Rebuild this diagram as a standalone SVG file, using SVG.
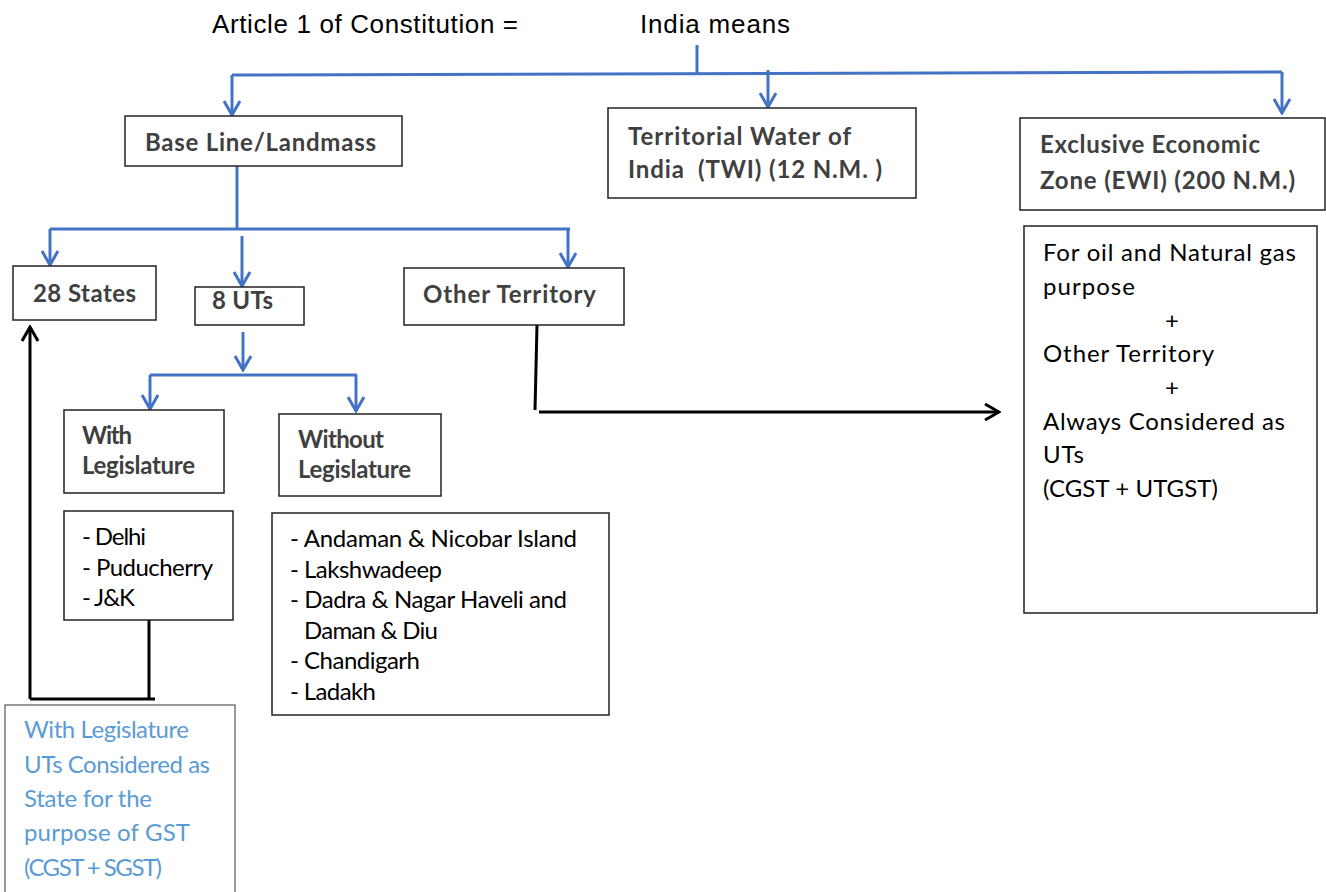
<svg xmlns="http://www.w3.org/2000/svg" width="1326" height="892" viewBox="0 0 1326 892">
<style>
.box{fill:#fff;stroke:#222;stroke-width:1.5}
.t{font-family:Lato,"Open Sans","Liberation Sans",sans-serif;font-size:24px;fill:#000}
.b{font-family:Lato,"Open Sans","Liberation Sans",sans-serif;font-size:24px;font-weight:bold;fill:#404040}
.h{font-family:"Liberation Sans",Arial,sans-serif;font-size:26px;fill:#000}
.lb{font-family:Lato,"Open Sans","Liberation Sans",sans-serif;font-size:24px;fill:#5b9bd5}
.blue{stroke:#4472c4;stroke-width:3;fill:none}
.blk{stroke:#000;stroke-width:3;fill:none}
</style>
<defs>
<marker id="ab" viewBox="-16 -10 18 20" refX="0" refY="0" markerWidth="18" markerHeight="20" markerUnits="userSpaceOnUse" orient="auto">
<path d="M-14,-8 L0,0 L-14,8" fill="none" stroke="#4472c4" stroke-width="3"/>
</marker>
<marker id="ak" viewBox="-16 -10 18 20" refX="0" refY="0" markerWidth="18" markerHeight="20" markerUnits="userSpaceOnUse" orient="auto">
<path d="M-14,-8 L0,0 L-14,8" fill="none" stroke="#000" stroke-width="3"/>
</marker>
</defs>
<rect width="1326" height="892" fill="#fff"/>
<g id="title">
<text class="h" x="212" y="33" textLength="306">Article 1 of Constitution =</text>
<text class="h" x="640" y="33" textLength="150">India means</text>
</g>
<g id="connectors">
<path class="blue" d="M697,45 V74"/>
<path class="blue" d="M232,75 L1282,72"/>
<path class="blue" d="M232,75 V115" marker-end="url(#ab)"/>
<path class="blue" d="M768,70 V107" marker-end="url(#ab)"/>
<path class="blue" d="M1282,72 V113" marker-end="url(#ab)"/>
<path class="blue" d="M237,166 V230"/>
<path class="blue" d="M50,229 H570"/>
<path class="blue" d="M50,229 V265" marker-end="url(#ab)"/>
<path class="blue" d="M242,236 V286" marker-end="url(#ab)"/>
<path class="blue" d="M568,229 V267" marker-end="url(#ab)"/>
<path class="blue" d="M243,332 V370" marker-end="url(#ab)"/>
<path class="blue" d="M150,375 H357"/>
<path class="blue" d="M150,375 V409" marker-end="url(#ab)"/>
<path class="blue" d="M356,375 V411" marker-end="url(#ab)"/>
<path class="blk" d="M149,620 V698"/>
<path class="blk" d="M30,699 H155"/>
<path class="blk" d="M30,699 V327" marker-end="url(#ak)"/>
<path class="blk" d="M537,325 L535,410"/>
<path class="blk" d="M539,412 H999" marker-end="url(#ak)"/>
</g>
<g id="baseline">
<rect class="box" x="125" y="116" width="277" height="50"/>
<text class="b" x="145" y="151" textLength="231">Base Line/Landmass</text>
</g>
<g id="twi">
<rect class="box" x="608" y="108" width="308" height="90"/>
<text class="b" x="628" y="145" textLength="223">Territorial Water of</text>
<text class="b" x="628" y="178" textLength="254" xml:space="preserve">India  (TWI) (12 N.M. )</text>
</g>
<g id="eez">
<rect class="box" x="1020" y="118" width="305" height="92"/>
<text class="b" x="1040" y="153" textLength="220">Exclusive Economic</text>
<text class="b" x="1040" y="189" textLength="255">Zone (EWI) (200 N.M.)</text>
</g>
<g id="eez-detail">
<rect class="box" x="1024" y="226" width="293" height="387"/>
<text class="t" x="1043" y="261" textLength="253">For oil and Natural gas</text>
<text class="t" x="1043" y="295" textLength="92">purpose</text>
<text class="t" x="1172" y="329" text-anchor="middle">+</text>
<text class="t" x="1043" y="362" textLength="171">Other Territory</text>
<text class="t" x="1172" y="396" text-anchor="middle">+</text>
<text class="t" x="1043" y="430" textLength="242">Always Considered as</text>
<text class="t" x="1043" y="463" textLength="41">UTs</text>
<text class="t" x="1043" y="497" textLength="175">(CGST + UTGST)</text>
</g>
<g id="states">
<rect class="box" x="13" y="266" width="143" height="54"/>
<text class="b" x="33" y="302" textLength="103">28 States</text>
</g>
<g id="uts">
<rect class="box" x="195" y="287" width="109" height="38"/>
<text class="b" x="212" y="309" textLength="61">8 UTs</text>
</g>
<g id="other">
<rect class="box" x="404" y="268" width="220" height="57"/>
<text class="b" x="423" y="303" textLength="173">Other Territory</text>
</g>
<g id="with-leg">
<rect class="box" x="64" y="410" width="160" height="83"/>
<text class="b" x="82" y="444" textLength="50">With</text>
<text class="b" x="82" y="474" textLength="113">Legislature</text>
</g>
<g id="without-leg">
<rect class="box" x="279" y="414" width="162" height="82"/>
<text class="b" x="298" y="448" textLength="86">Without</text>
<text class="b" x="298" y="478" textLength="113">Legislature</text>
</g>
<g id="with-list">
<rect class="box" x="64" y="511" width="169" height="109"/>
<text class="t" x="82" y="545" textLength="64">- Delhi</text>
<text class="t" x="82" y="576" textLength="131">- Puducherry</text>
<text class="t" x="82" y="606" textLength="53">- J&amp;K</text>
</g>
<g id="without-list">
<rect class="box" x="272" y="513" width="337" height="202"/>
<text class="t" x="290" y="547" textLength="287">- Andaman &amp; Nicobar Island</text>
<text class="t" x="290" y="578" textLength="152">- Lakshwadeep</text>
<text class="t" x="290" y="608" textLength="277">- Dadra &amp; Nagar Haveli and</text>
<text class="t" x="304" y="639" textLength="134">Daman &amp; Diu</text>
<text class="t" x="290" y="669" textLength="130">- Chandigarh</text>
<text class="t" x="290" y="700" textLength="86">- Ladakh</text>
</g>
<g id="gst-note">
<rect x="5" y="705" width="230" height="200" fill="#fff" stroke="#555" stroke-width="1.2"/>
<text class="lb" x="24" y="738" textLength="165">With Legislature</text>
<text class="lb" x="24" y="773" textLength="186">UTs Considered as</text>
<text class="lb" x="24" y="807" textLength="128">State for the</text>
<text class="lb" x="24" y="841" textLength="166">purpose of GST</text>
<text class="lb" x="24" y="876" textLength="138">(CGST + SGST)</text>
</g>
</svg>
